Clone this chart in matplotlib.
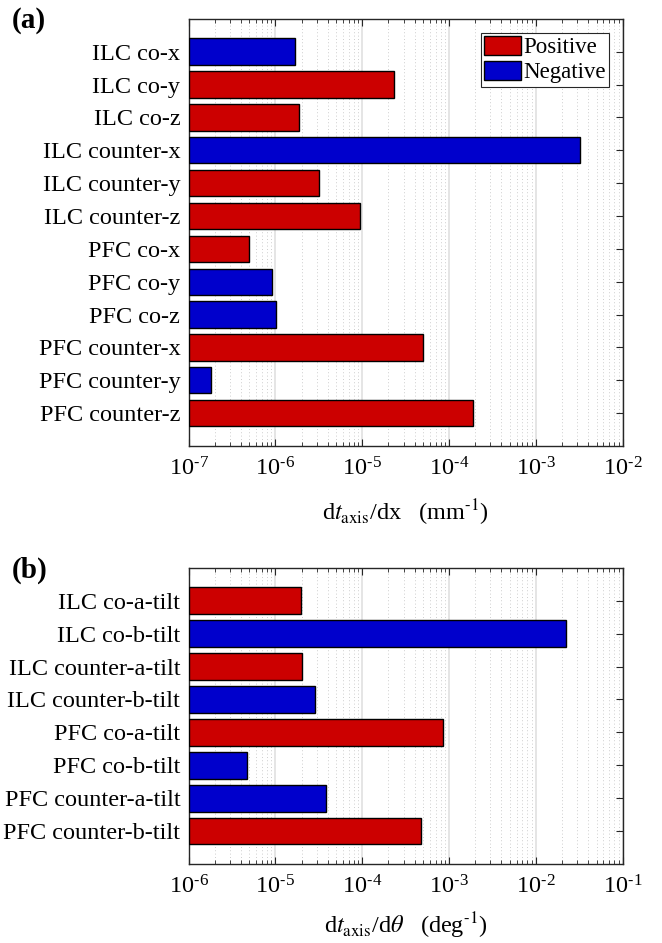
import matplotlib
matplotlib.use("Agg")
import matplotlib.pyplot as plt
from matplotlib.patches import Patch
from matplotlib.ticker import LogLocator, FuncFormatter, NullFormatter
import numpy as np

# panel (a): translation sensitivities
labels_a = ["ILC co-x", "ILC co-y", "ILC co-z", "ILC counter-x", "ILC counter-y", "ILC counter-z",
            "PFC co-x", "PFC co-y", "PFC co-z", "PFC counter-x", "PFC counter-y", "PFC counter-z"]
values_a = [1.67e-6, 2.35e-5, 1.89e-6, 3.2e-3, 3.2e-6, 9.5e-6,
            4.9e-7, 9.2e-7, 1.02e-6, 5.04e-5, 1.82e-7, 1.89e-4]
signs_a = ["-", "+", "+", "-", "+", "+", "+", "-", "-", "+", "-", "+"]

# panel (b): tilt sensitivities
labels_b = ["ILC co-a-tilt", "ILC co-b-tilt", "ILC counter-a-tilt", "ILC counter-b-tilt",
            "PFC co-a-tilt", "PFC co-b-tilt", "PFC counter-a-tilt", "PFC counter-b-tilt"]
values_b = [1.96e-5, 2.2e-2, 2.0e-5, 2.86e-5, 8.5e-4, 4.7e-6, 3.87e-5, 4.78e-4]
signs_b = ["+", "-", "+", "-", "+", "-", "-", "+"]

RED = "#CC0000"
BLUE = "#0000CC"
FS = 17.5

plt.rcParams["font.family"] = ["Liberation Serif", "DejaVu Serif"]
plt.rcParams["mathtext.fontset"] = "stix"


def pow_label(v, pos):
    # matlab style: short hyphen in the exponent
    e = int(round(np.log10(v)))
    if e < 0:
        return r"$\mathdefault{10^{\text{-}%d}}$" % (-e)
    return r"$\mathdefault{10^{%d}}$" % e


def draw_panel(ax, labels, values, signs, xlim, xlabel):
    n = len(labels)
    ypos = list(range(1, n + 1))
    cols = [RED if s == "+" else BLUE for s in signs]
    left = xlim[0]
    widths = [v - left for v in values]
    ax.barh(ypos, widths, left=left, height=0.8, color=cols, edgecolor="black",
            linewidth=1.0, zorder=3)
    ax.set_xscale("log")
    ax.set_xlim(*xlim)
    ax.set_ylim(n + 1, 0)
    ax.set_yticks(ypos)
    ax.set_yticklabels(labels, fontsize=FS)
    ax.xaxis.set_major_locator(LogLocator(base=10, numticks=20))
    ax.xaxis.set_minor_locator(LogLocator(base=10, subs=range(2, 10), numticks=20))
    ax.xaxis.set_major_formatter(FuncFormatter(pow_label))
    ax.xaxis.set_minor_formatter(NullFormatter())
    ax.tick_params(axis="x", which="major", direction="in", length=5, width=0.8,
                   top=True, labelsize=FS, pad=8, color="#262626")
    ax.tick_params(axis="x", which="minor", direction="in", length=3, width=0.6,
                   top=True, color="#262626")
    ax.tick_params(axis="y", which="major", direction="in", length=5, width=0.8,
                   right=True, pad=6, color="#262626")
    ax.grid(True, which="major", axis="x", color="#E3E3E3", linewidth=1.3, zorder=0)
    ax.grid(True, which="minor", axis="x", color="#BDBDBD", linewidth=0.6,
            linestyle=(0, (1, 3)), zorder=0)
    ax.set_axisbelow(True)
    for sp in ax.spines.values():
        sp.set_color("#262626")
        sp.set_linewidth(1.0)
    ax.set_xlabel(xlabel, fontsize=FS)


fig = plt.figure(figsize=(6.62, 9.43), dpi=100)
ax1 = fig.add_axes([0.285, 0.527, 0.6556, 0.4531])
ax2 = fig.add_axes([0.285, 0.0835, 0.6556, 0.3145])

draw_panel(ax1, labels_a, values_a, signs_a, (1e-7, 1e-2),
           r"d$t_{\mathrm{axis}}$/dx   (mm$^{\text{-}1}$)")
draw_panel(ax2, labels_b, values_b, signs_b, (1e-6, 1e-1),
           r"d$t_{\mathrm{axis}}$/d$\theta$   (deg$^{\text{-}1}$)")

ax1.xaxis.set_label_coords(0.5, -67 / 427.3)
ax1.xaxis.label.set_va("center")
ax2.xaxis.set_label_coords(0.5, -62 / 296.6)
ax2.xaxis.label.set_va("center")

handles = [Patch(facecolor=RED, edgecolor="black", label="Positive"),
           Patch(facecolor=BLUE, edgecolor="black", label="Negative")]
leg = ax1.legend(handles=handles, loc="upper right", fontsize=16.5, frameon=True, fancybox=False,
                 edgecolor="#262626", framealpha=1, borderpad=0.15, labelspacing=0.1,
                 handlelength=1.6, handleheight=0.9, handletextpad=0.1, borderaxespad=0.6)
leg.get_frame().set_linewidth(0.8)

fig.text(12 / 662, 1 - 20 / 943, "(a)", fontsize=21, fontweight="bold", va="center", ha="left")
fig.text(12 / 662, 1 - 570 / 943, "(b)", fontsize=21, fontweight="bold", va="center", ha="left")

fig.savefig("out.png", dpi=100)
